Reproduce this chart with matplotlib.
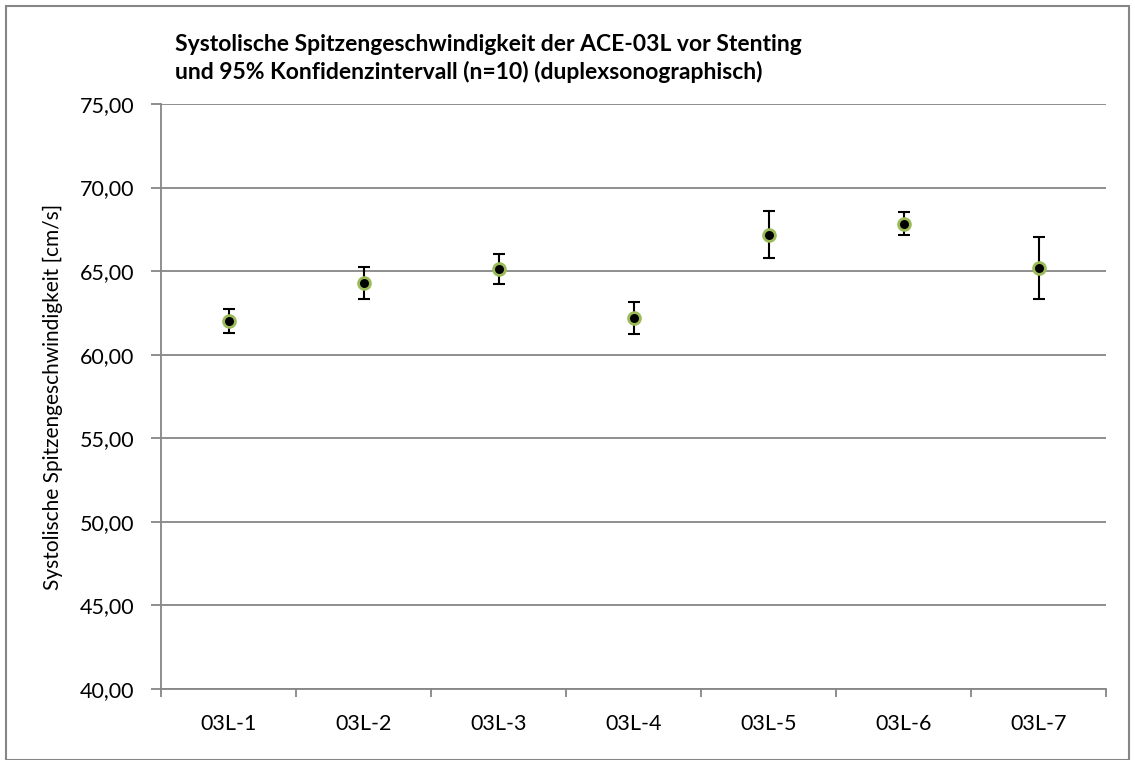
import matplotlib
matplotlib.use('Agg')
import matplotlib.pyplot as plt
from matplotlib.patches import Rectangle
import numpy as np

categories = ['03L-1', '03L-2', '03L-3', '03L-4', '03L-5', '03L-6', '03L-7']
means = [62.03, 64.29, 65.12, 62.19, 67.18, 67.83, 65.21]
ci = [0.71, 0.96, 0.90, 0.96, 1.42, 0.68, 1.85]
y_ticks = [40, 45, 50, 55, 60, 65, 70, 75]

plt.rcParams['font.family'] = ['Lato', 'DejaVu Sans']

fig = plt.figure(figsize=(11.35, 7.6), dpi=100)
ax = fig.add_axes([161/1135, 1-689/760, (1106-161)/1135, (689-104)/760])

x = np.arange(len(categories))
ax.errorbar(x, means, yerr=ci, fmt='none', ecolor='black', elinewidth=1.5,
            capsize=4.5, capthick=1.5, zorder=3)
ax.plot(x, means, 'o', markersize=8.5, markerfacecolor='black',
        markeredgecolor='#9BBB59', markeredgewidth=2, linestyle='none', zorder=4)

ax.set_xlim(-0.5, len(categories) - 0.5)
ax.set_ylim(40, 75)
ax.set_yticks(y_ticks)
ax.set_yticklabels([f'{v:.2f}'.replace('.', ',') for v in y_ticks], fontsize=15.5)
ax.yaxis.grid(True, color='#868686', linewidth=1.3)
ax.set_axisbelow(True)

ax.set_xticks(np.arange(-0.5, len(categories), 1.0))
ax.set_xticklabels([])
ax.set_xticks(x, minor=True)
ax.set_xticklabels(categories, minor=True, fontsize=15.5)
ax.tick_params(axis='x', which='minor', length=0, pad=18)
ax.tick_params(axis='x', which='major', length=6, color='#868686', width=1.3)
ax.tick_params(axis='y', length=7, color='#868686', width=1.3, pad=12)

for s in ['top', 'right']:
    ax.spines[s].set_visible(False)
for s in ['left', 'bottom']:
    ax.spines[s].set_color('#868686')
    ax.spines[s].set_linewidth(1.3)

ax.set_ylabel('Systolische Spitzengeschwindigkeit [cm/s]', fontsize=15, labelpad=12)

fig.text(175/1135, 1-34/760,
         'Systolische Spitzengeschwindigkeit der ACE-03L vor Stenting\n'
         'und 95% Konfidenzintervall (n=10) (duplexsonographisch)',
         fontsize=16.5, fontweight='bold', va='top', ha='left', linespacing=1.3)

fig.patches.append(Rectangle((6/1135, 0), 1-12/1135, 1-6/760, transform=fig.transFigure,
                             fill=False, edgecolor='#868686', linewidth=1.5))

fig.savefig('out.png', dpi=100)
